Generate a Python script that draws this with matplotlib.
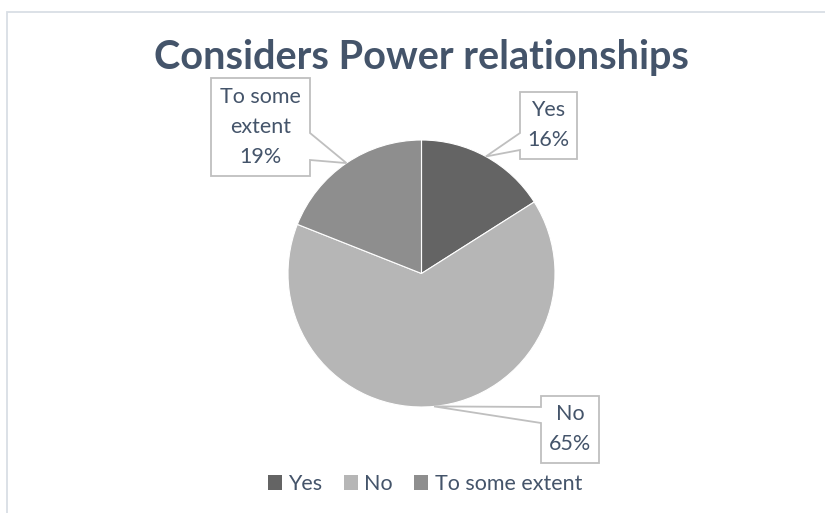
import matplotlib
matplotlib.use("Agg")
import matplotlib.pyplot as plt
from matplotlib.patches import Polygon, Rectangle
import numpy as np

# Data
categories = ["Yes", "No", "To some extent"]
shares = [16, 65, 19]
slice_colors = ["#646464", "#b6b6b6", "#8e8e8e"]
title = "Considers Power relationships"

W, H = 825, 513
TEXT = "#44546a"
plt.rcParams["font.family"] = ["Lato", "DejaVu Sans"]

fig = plt.figure(figsize=(W / 100, H / 100), dpi=100)
ax = fig.add_axes([0, 0, 1, 1])


def Y(y_pix):
    """Convert a top-down pixel row to data y."""
    return H - y_pix


# chart area border (left and top edges visible)
ax.add_patch(Rectangle((6.5, Y(900)), 1200, 900 - 11.5,
                       fill=False, edgecolor="#d9dee5", linewidth=1.3))

# title
ax.text(421, Y(58), title, ha="center", va="center", fontsize=28.5,
        fontweight="bold", color=TEXT)

# pie
cx, cy, r = 421.5, Y(273.5), 133.5
wedges, _ = ax.pie(shares, colors=slice_colors, startangle=90,
                   counterclock=False, center=(cx, cy), radius=r,
                   wedgeprops=dict(edgecolor="white", linewidth=0.8),
                   frame=True)
ax.set_xlim(0, W)
ax.set_ylim(0, H)
ax.set_aspect("equal")
ax.axis("off")

# callout boxes: (left, top, right, bottom), pointer side, pointer base rows
callouts = [
    dict(box=(520, 92, 577, 159), side="left", base=(133, 150),
         lines=["Yes", f"{shares[0]}%"]),
    dict(box=(541, 396, 599, 463), side="left", base=(407, 423),
         lines=["No", f"{shares[1]}%"]),
    dict(box=(211, 78, 310, 176), side="right", base=(133, 160),
         lines=["To some", "extent", f"{shares[2]}%"]),
]

cum = np.cumsum([0] + shares)
for i, c in enumerate(callouts):
    mid = (cum[i] + cum[i + 1]) / 2 / sum(shares) * 2 * np.pi
    tip = (cx + r * np.sin(mid), cy + r * np.cos(mid))
    l, t, rr, b = c["box"]
    b0, b1 = c["base"]
    if c["side"] == "left":
        pts = [(l, Y(t)), (rr, Y(t)), (rr, Y(b)), (l, Y(b)),
               (l, Y(b1)), tip, (l, Y(b0))]
    else:
        pts = [(l, Y(t)), (rr, Y(t)), (rr, Y(b0)), tip,
               (rr, Y(b1)), (rr, Y(b)), (l, Y(b))]
    ax.add_patch(Polygon(pts, closed=True, facecolor="white",
                         edgecolor="#bfbfbf", linewidth=1.3, zorder=5))
    n = len(c["lines"])
    yc = (t + b) / 2
    for k, s in enumerate(c["lines"]):
        ax.text((l + rr) / 2, Y(yc + (k - (n - 1) / 2) * 30), s,
                ha="center", va="center", fontsize=15.5, color=TEXT,
                zorder=6)

# legend
leg = fig.legend(wedges, categories, loc="center",
                 bbox_to_anchor=(425 / W, 1 - 484 / H), ncol=3,
                 frameon=False, fontsize=15.5, labelcolor=TEXT,
                 handlelength=0.65, handleheight=0.65, handletextpad=0.3,
                 columnspacing=1.0)
for h in leg.legend_handles:
    h.set_edgecolor("none")

fig.savefig("out.png", dpi=100)
